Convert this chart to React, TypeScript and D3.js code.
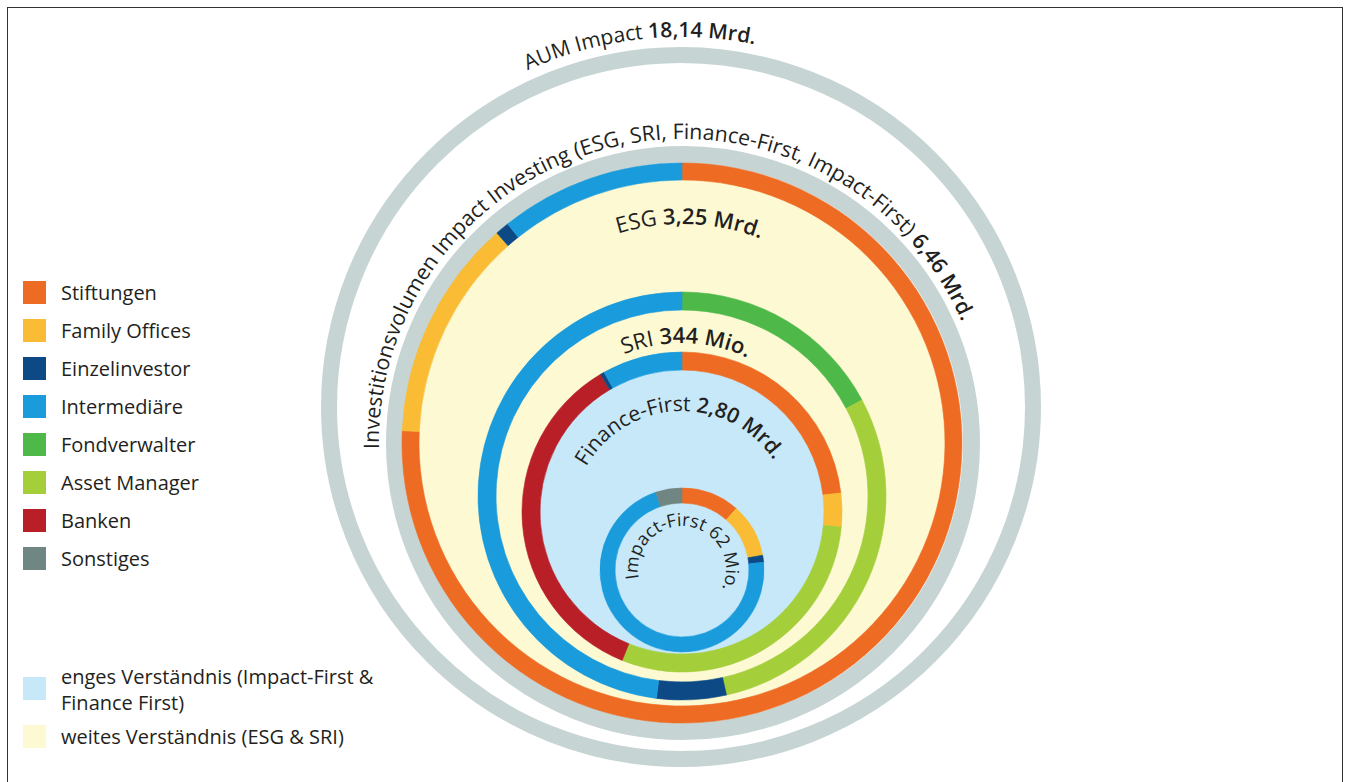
import React from "react";
import * as d3 from "d3";

// ---------- data ----------
const categories = [
  "Stiftungen",
  "Family Offices",
  "Einzelinvestor",
  "Intermediäre",
  "Fondverwalter",
  "Asset Manager",
  "Banken",
  "Sonstiges",
];
const categoryColors = [
  "#EE6B24",
  "#F9BC34",
  "#0D4A85",
  "#1A9BDB",
  "#4EB849",
  "#A5CE3B",
  "#B81F27",
  "#6F8682",
];

// shares (%) per ring, clockwise from 12 o'clock
const esgShares = [
  { cat: "Stiftungen", value: 75.7 },
  { cat: "Family Offices", value: 12.8 },
  { cat: "Einzelinvestor", value: 0.8 },
  { cat: "Intermediäre", value: 10.7 },
];
const sriShares = [
  { cat: "Fondverwalter", value: 17.2 },
  { cat: "Asset Manager", value: 29.3 },
  { cat: "Einzelinvestor", value: 5.5 },
  { cat: "Intermediäre", value: 48.0 },
];
const financeFirstShares = [
  { cat: "Stiftungen", value: 23.1 },
  { cat: "Family Offices", value: 3.4 },
  { cat: "Asset Manager", value: 29.6 },
  { cat: "Banken", value: 35.4 },
  { cat: "Einzelinvestor", value: 0.4 },
  { cat: "Intermediäre", value: 8.1 },
];
const impactFirstShares = [
  { cat: "Stiftungen", value: 11.5 },
  { cat: "Family Offices", value: 10.6 },
  { cat: "Einzelinvestor", value: 1.4 },
  { cat: "Intermediäre", value: 71.3 },
  { cat: "Sonstiges", value: 5.2 },
];

const ringTitles = [
  "AUM Impact ",
  "Investitionsvolumen Impact Investing (ESG, SRI, Finance-First, Impact-First) ",
  "ESG ",
  "SRI ",
  "Finance-First ",
  "Impact-First ",
];
const ringVolumes = ["18,14 Mrd.", "6,46 Mrd.", "3,25 Mrd.", "344 Mio.", "2,80 Mrd.", "62 Mio."];

const understandingLabels = [
  ["enges Verständnis (Impact-First &", "Finance First)"],
  ["weites Verständnis (ESG & SRI)"],
];
const understandingColors = ["#C6E8F9", "#FCF9D3"];

// ---------- layout ----------
const GREY = "#C6D4D3";
const FONT = "'Open Sans', 'Noto Sans', sans-serif";
const TEXT = "#231F20";

const color = d3.scaleOrdinal<string, string>().domain(categories).range(categoryColors);
const pie = d3
  .pie<{ cat: string; value: number }>()
  .sort(null)
  .value((d) => d.value)
  .startAngle(0)
  .endAngle(2 * Math.PI);

const rings = [
  { data: esgShares, cx: 682, cy: 443, rIn: 263, rOut: 280 },
  { data: sriShares, cx: 682, cy: 496, rIn: 186, rOut: 204 },
  { data: financeFirstShares, cx: 682, cy: 512, rIn: 142, rOut: 160 },
  { data: impactFirstShares, cx: 682, cy: 570, rIn: 67, rOut: 82 },
];

const labelLayout = [
  { cx: 681, cy: 407, r: 370, angle: -6.5, size: 21 },
  { cx: 683, cy: 443, r: 304, angle: -12.3, size: 21.3 },
  { cx: 682, cy: 443, r: 219, angle: 2, size: 22 },
  { cx: 682, cy: 496, r: 153, angle: 1.5, size: 22 },
  { cx: 682, cy: 521, r: 110, angle: -2, size: 21 },
  { cx: 682, cy: 570, r: 44, angle: 7, size: 18 },
];

function circlePath(cx: number, cy: number, r: number, centerDeg: number) {
  const a0 = ((centerDeg - 180) * Math.PI) / 180;
  const p = (a: number) => [cx + r * Math.sin(a), cy - r * Math.cos(a)];
  const [x0, y0] = p(a0);
  const [x1, y1] = p(a0 + Math.PI);
  return `M${x0},${y0} A${r},${r} 0 1 1 ${x1},${y1} A${r},${r} 0 1 1 ${x0},${y0}`;
}

function Ring({ data, cx, cy, rIn, rOut }: any) {
  const arc = d3.arc<any>().innerRadius(rIn).outerRadius(rOut);
  return (
    <g transform={`translate(${cx},${cy})`}>
      {pie(data).map((s, i) => (
        <path
          key={i}
          d={arc(s) as string}
          fill={color(s.data.cat)}
          stroke={color(s.data.cat)}
          strokeWidth={0.6}
        />
      ))}
    </g>
  );
}

export default function App() {
  const legendX = 23;
  const legendY0 = 281;
  const legendStep = 38;
  return (
    <svg
      width={1347}
      height={782}
      style={{ position: "absolute", left: 0, top: 0, background: "#fff" }}
      fontFamily={FONT}
    >
      <rect x={7.5} y={7.5} width={1335} height={820} fill="#fff" stroke="#333" strokeWidth={1} />

      {/* outer grey rings */}
      <circle cx={681} cy={407} r={352} fill="none" stroke={GREY} strokeWidth={16} />
      <circle cx={683} cy={443} r={288.5} fill="none" stroke={GREY} strokeWidth={17} />

      {/* fills */}
      <circle cx={rings[0].cx} cy={rings[0].cy} r={rings[0].rIn + 1} fill={understandingColors[1]} />
      <Ring {...rings[0]} />
      <Ring {...rings[1]} />
      <circle cx={rings[2].cx} cy={rings[2].cy} r={rings[2].rIn + 1} fill={understandingColors[0]} />
      <Ring {...rings[2]} />
      <Ring {...rings[3]} />

      {/* ring labels */}
      <defs>
        {labelLayout.map((l, i) => (
          <path key={i} id={`lbl${i}`} d={circlePath(l.cx, l.cy, l.r, l.angle)} fill="none" />
        ))}
      </defs>
      {labelLayout.map((l, i) => (
        <text key={i} fontSize={l.size} fill={TEXT}>
          <textPath href={`#lbl${i}`} startOffset="50%" textAnchor="middle">
            <tspan>{ringTitles[i]}</tspan>
            <tspan fontWeight={i === 5 ? 400 : 600}>{ringVolumes[i]}</tspan>
          </textPath>
        </text>
      ))}

      {/* legend: categories */}
      {categories.map((c, i) => (
        <g key={c} transform={`translate(${legendX},${legendY0 + i * legendStep})`}>
          <rect width={23} height={23} fill={color(c)} />
          <text x={38} y={12} dy="0.35em" fontSize={20} fill={TEXT}>
            {c}
          </text>
        </g>
      ))}

      {/* legend: understanding */}
      {understandingLabels.map((lines, i) => (
        <g key={i} transform={`translate(${legendX},${i === 0 ? 677 : 725})`}>
          <rect width={23} height={23} fill={understandingColors[i]} />
          {lines.map((t, j) => (
            <text key={j} x={38} y={i === 0 ? 0 + j * 26 : 12} dy="0.35em" fontSize={20} fill={TEXT}>
              {t}
            </text>
          ))}
        </g>
      ))}
    </svg>
  );
}
